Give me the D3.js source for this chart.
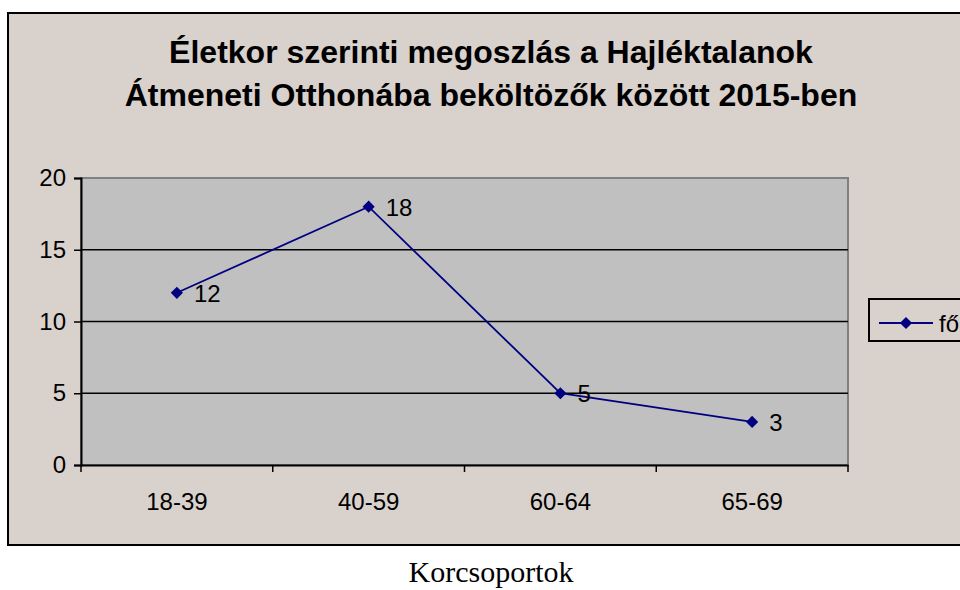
<!DOCTYPE html>
<html>
<head>
<meta charset="utf-8">
<script src="https://cdn.jsdelivr.net/npm/d3@7"></script>
<style>
  body { margin: 0; background: #fff; }
  svg { display: block; font-family: "Liberation Sans", Arial, sans-serif; }
</style>
</head>
<body>
<div id="chart"></div>
<script>
// data
var categories = ["18-39", "40-59", "60-64", "65-69"];
var values = [12, 18, 5, 3];
var yTicks = [0, 5, 10, 15, 20];
var seriesName = "fő";
var titleLines = ["Életkor szerinti megoszlás a Hajléktalanok", "Átmeneti Otthonába beköltözők között 2015-ben"];
var xTitle = "Korcsoportok";

var W = 960, H = 590;
var plot = {left: 81, right: 848, top: 178, bottom: 465};

var svg = d3.select("#chart").append("svg")
    .attr("width", W)
    .attr("height", H);

// outer chart frame
svg.append("rect")
    .attr("x", 8).attr("y", 13)
    .attr("width", 980).attr("height", 532)
    .attr("fill", "#d9d1cc")
    .attr("stroke", "#000")
    .attr("stroke-width", 2);

// title
svg.append("text")
    .attr("text-anchor", "middle")
    .attr("font-weight", "bold")
    .attr("font-size", 32)
    .selectAll("tspan")
    .data(titleLines)
  .enter().append("tspan")
    .attr("x", 491)
    .attr("y", function(d, i) { return 63 + i * 43; })
    .text(function(d) { return d; });

var x = d3.scaleBand()
    .domain(categories)
    .range([plot.left, plot.right]);
var y = d3.scaleLinear()
    .domain([0, 20])
    .range([plot.bottom, plot.top]);

// plot area
svg.append("rect")
    .attr("x", plot.left).attr("y", plot.top)
    .attr("width", plot.right - plot.left)
    .attr("height", plot.bottom - plot.top)
    .attr("fill", "#c0c0c0")
    .attr("stroke", "#808080")
    .attr("stroke-width", 2);

// gridlines
svg.append("g")
  .selectAll("line")
    .data(yTicks.filter(function(d) { return d > 0 && d < 20; }))
  .enter().append("line")
    .attr("x1", plot.left).attr("x2", plot.right)
    .attr("y1", function(d) { return y(d); })
    .attr("y2", function(d) { return y(d); })
    .attr("stroke", "#000")
    .attr("stroke-width", 1.5);

// y axis
var yAxis = svg.append("g")
    .attr("transform", "translate(" + plot.left + ",0)")
    .call(d3.axisLeft(y).tickValues(yTicks).tickSize(7).tickPadding(8));
yAxis.selectAll("text").attr("font-size", 24).attr("fill", "#000").attr("font-family", "Liberation Sans, Arial, sans-serif");

// x axis: ticks between categories
var xAxis = svg.append("g")
    .attr("transform", "translate(0," + plot.bottom + ")")
    .call(d3.axisBottom(x).tickSize(0).tickPadding(28));
xAxis.selectAll("text").attr("font-size", 24).attr("fill", "#000").attr("font-family", "Liberation Sans, Arial, sans-serif");
xAxis.selectAll(".x-sep")
    .data(categories.concat(["end"]))
  .enter().append("line")
    .attr("x1", function(d, i) { return plot.left + i * x.step(); })
    .attr("x2", function(d, i) { return plot.left + i * x.step(); })
    .attr("y1", 0).attr("y2", 7)
    .attr("stroke", "#000")
    .attr("stroke-width", 1.5);

svg.selectAll(".domain").attr("stroke", "#000").attr("stroke-width", 2);
svg.selectAll(".tick line").attr("stroke", "#000").attr("stroke-width", 1.5);

var pts = categories.map(function(c, i) { return {cat: c, v: values[i]}; });
var cx = function(d) { return x(d.cat) + x.bandwidth() / 2; };

// series line
svg.append("path")
    .datum(pts)
    .attr("fill", "none")
    .attr("stroke", "#000080")
    .attr("stroke-width", 1.8)
    .attr("d", d3.line().x(cx).y(function(d) { return y(d.v); }));

var diamond = d3.symbol().type(d3.symbolDiamond2).size(95);

svg.append("g").selectAll("path")
    .data(pts)
  .enter().append("path")
    .attr("transform", function(d) { return "translate(" + cx(d) + "," + y(d.v) + ")"; })
    .attr("d", diamond)
    .attr("fill", "#000080");

// data labels
svg.append("g").selectAll("text")
    .data(pts)
  .enter().append("text")
    .attr("x", function(d) { return cx(d) + 17; })
    .attr("y", function(d) { return y(d.v) + 9; })
    .attr("font-size", 24)
    .text(function(d) { return d.v; });

// legend
var lg = svg.append("g").attr("transform", "translate(869,299)");
lg.append("rect")
    .attr("width", 120).attr("height", 42)
    .attr("fill", "none")
    .attr("stroke", "#000")
    .attr("stroke-width", 2);
lg.append("line")
    .attr("x1", 10).attr("x2", 64)
    .attr("y1", 24).attr("y2", 24)
    .attr("stroke", "#000080")
    .attr("stroke-width", 1.8);
lg.append("path")
    .attr("transform", "translate(37,24)")
    .attr("d", diamond)
    .attr("fill", "#000080");
lg.append("text")
    .attr("x", 70).attr("y", 33)
    .attr("font-size", 24)
    .text(seriesName);

// category axis title below the frame
svg.append("text")
    .attr("x", 491).attr("y", 582)
    .attr("text-anchor", "middle")
    .attr("font-family", "Liberation Serif, Times New Roman, serif")
    .attr("font-size", 30)
    .text(xTitle);
</script>
</body>
</html>
